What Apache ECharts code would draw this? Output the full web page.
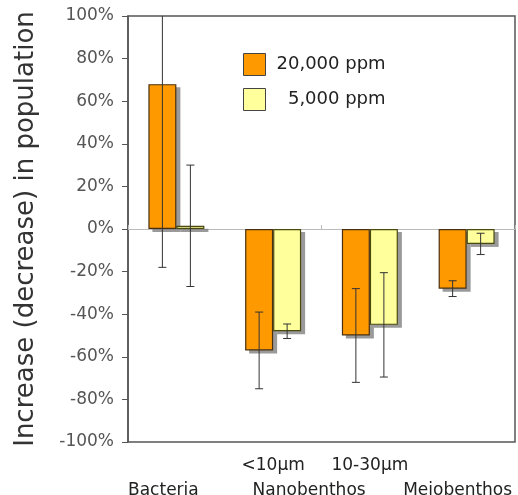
<!DOCTYPE html>
<html>
<head>
<meta charset="utf-8">
<script src="https://cdn.jsdelivr.net/npm/echarts@6/dist/echarts.min.js"></script>
<style>html,body{margin:0;padding:0;background:#fff;}#c{width:518px;height:495px;}</style>
</head>
<body>
<div id="c"></div>
<script>
var categories = ['Bacteria', '<10µm Nanobenthos', '10-30µm Nanobenthos', 'Meiobenthos'];
var labelTop = ['', '<10µm', '10-30µm', ''];
var labelBottom = ['Bacteria', 'Nanobenthos', '', 'Meiobenthos'];
var seriesNames = ['20,000 ppm', '5,000 ppm'];
var high = [68, -57, -50, -28];      // 20,000 ppm, % change
var highErr = [86, 18, 22, 3.7];
var low = [1.5, -48, -45, -7];       // 5,000 ppm, % change
var lowErr = [28.5, 3.4, 24.5, 5];
var yTicks = [-100, 100, 20];

var FONT = 'DejaVu Sans';
var BAR_W = 28;

function errSeries(vals, errs, side) {
  return {
    type: 'custom',
    z: 5,
    silent: true,
    clip: true,
    data: vals.map(function (v, i) { return [i, v - errs[i], v + errs[i]]; }),
    renderItem: function (params, api) {
      var cs = params.coordSys;
      var lo = api.coord([api.value(0), api.value(1)]);
      var hi = api.coord([api.value(0), api.value(2)]);
      var x = lo[0] + side * BAR_W / 2;
      var yTop = Math.max(hi[1], cs.y);
      var yBot = Math.min(lo[1], cs.y + cs.height);
      var c = 4;
      var st = { stroke: '#333', lineWidth: 1 };
      var ch = [{ type: 'line', shape: { x1: x, y1: yTop, x2: x, y2: yBot }, style: st }];
      if (hi[1] >= cs.y) ch.push({ type: 'line', shape: { x1: x - c, y1: hi[1], x2: x + c, y2: hi[1] }, style: st });
      if (lo[1] <= cs.y + cs.height) ch.push({ type: 'line', shape: { x1: x - c, y1: lo[1], x2: x + c, y2: lo[1] }, style: st });
      return { type: 'group', children: ch };
    }
  };
}

function shadowSeries(vals, side) {
  return {
    type: 'custom',
    z: 2,
    silent: true,
    data: vals.map(function (v, i) { return [i, v]; }),
    renderItem: function (params, api) {
      var p0 = api.coord([api.value(0), 0]);
      var p1 = api.coord([api.value(0), api.value(1)]);
      var xl = side < 0 ? p0[0] - BAR_W : p0[0];
      var top = Math.min(p0[1], p1[1]);
      var h = Math.abs(p1[1] - p0[1]);
      return { type: 'rect', shape: { x: xl + 4, y: top + 3, width: BAR_W, height: h },
        style: { fill: 'rgba(120,120,120,0.75)' } };
    }
  };
}

var chart = echarts.init(document.getElementById('c'), null, { renderer: 'canvas' });
chart.setOption({
  animation: false,
  textStyle: { fontFamily: FONT },
  grid: { left: 128, right: 3, top: 16, bottom: 53, show: true, borderColor: '#555', borderWidth: 1.5, backgroundColor: '#fff',
          containLabel: false, outerBoundsMode: 'none' },
  legend: {
    orient: 'vertical', left: 238, top: 48, itemWidth: 22, itemHeight: 22, itemGap: 12,
    icon: 'rect',
    data: seriesNames,
    itemStyle: { borderColor: '#444', borderWidth: 1 },
    textStyle: { fontFamily: FONT, fontSize: 18, color: '#222', padding: [0, 0, 0, 6] },
    formatter: function (n) { return n === seriesNames[1] ? '  ' + n : n; }
  },
  xAxis: [{
    type: 'category', data: categories, position: 'bottom',
    axisLine: { onZero: false, show: false }, axisTick: { show: false },
    axisLabel: {
      interval: 0, margin: 11,
      formatter: function (v, i) {
        var t = labelTop[i] || ' ';
        var b = labelBottom[i] || ' ';
        var st = i === 0 ? 'b0' : i === 1 ? 'b1' : i === 3 ? 'b3' : 's';
        return '{s|' + t + '}\n{' + st + '|' + b + '}';
      },
      rich: {
        s: { fontFamily: FONT, fontSize: 17, color: '#222', lineHeight: 25 },
        b0: { fontFamily: FONT, fontSize: 17, color: '#222', lineHeight: 25, padding: [0, 26, 0, 0] },
        b1: { fontFamily: FONT, fontSize: 17, color: '#222', lineHeight: 25, padding: [0, 0, 0, 72] },
        b3: { fontFamily: FONT, fontSize: 17, color: '#222', lineHeight: 25, padding: [0, 18, 0, 0] }
      }
    }
  }, {
    type: 'category', data: categories, position: 'bottom',
    axisLine: { onZero: true, lineStyle: { color: '#bbb', width: 1 } },
    axisTick: { show: true, length: 4, inside: true, lineStyle: { color: '#bbb' } },
    axisLabel: { show: false }
  }],
  yAxis: {
    type: 'value', min: yTicks[0], max: yTicks[1], interval: yTicks[2],
    name: 'Increase (decrease) in population', nameLocation: 'middle', nameGap: 89,
    nameTextStyle: { fontFamily: FONT, fontSize: 26, color: '#333' },
    axisLine: { show: true, lineStyle: { color: '#555', width: 1.5 } },
    axisTick: { show: true, length: 6, lineStyle: { color: '#555' } },
    splitLine: { show: false },
    axisLabel: { margin: 14, fontFamily: FONT, fontSize: 17, color: '#555', formatter: '{value}%' }
  },
  series: [
    { name: seriesNames[0], type: 'bar', data: high, barWidth: BAR_W, barGap: '0%', z: 3,
      itemStyle: { color: '#FF9900', borderColor: '#4a3010', borderWidth: 1.2 } },
    { name: seriesNames[1], type: 'bar', data: low, barWidth: BAR_W, barGap: '0%', z: 3,
      itemStyle: { color: '#FFFF9C', borderColor: '#4a4a10', borderWidth: 1.2 } },
    shadowSeries(high, -1),
    shadowSeries(low, 1),
    errSeries(high, highErr, -1),
    errSeries(low, lowErr, 1)
  ]
});
</script>
</body>
</html>
